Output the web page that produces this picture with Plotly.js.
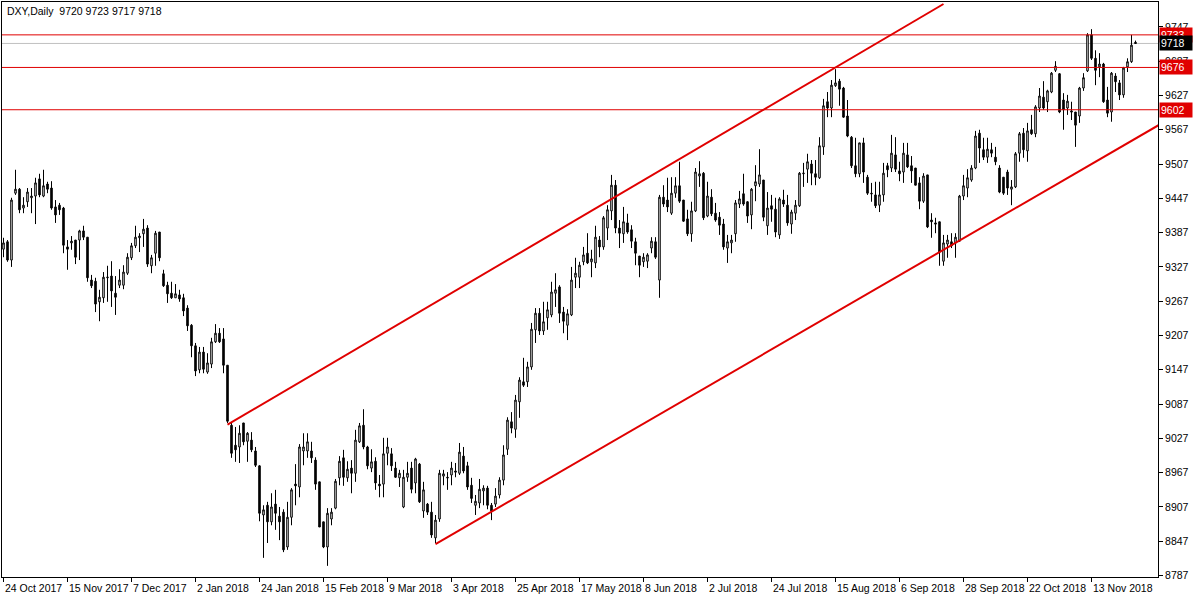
<!DOCTYPE html>
<html><head><meta charset="utf-8">
<script src="https://cdn.plot.ly/plotly-3.0.1.min.js"></script>
<style>html,body{margin:0;padding:0;background:#fff}#chart{width:1200px;height:600px}</style>
</head><body><div id="chart"></div>
<script>
const symbolTitle = "DXY,Daily\u00A0\u00A09720 9723 9717 9718";

const openVals = [9358,9371,9339,9456,9463,9430,9441,9448,9451,9481,
9451,9472,9465,9432,9435,9430,9362,9369,9374,9374,
9390,9379,9304,9302,9266,9273,9308,9311,9281,9295,
9295,9316,9343,9364,9378,9385,9395,9329,9351,9388,
9315,9295,9281,9273,9278,9273,9255,9225,9189,9147,
9178,9143,9157,9196,9211,9201,9155,9050,9015,9012,
9054,9022,9024,9005,8979,8893,8910,8881,8912,8891,
8898,8837,8889,8947,8942,9005,9005,9005,8989,8951,
8881,8837,8886,8905,8958,8993,8958,8975,8966,9021,
9050,9012,8975,8987,8947,8947,9001,9000,8975,8958,
8907,8959,8975,8949,8982,8900,8912,8898,8853,8886,
8961,8959,8963,8970,8966,8996,8979,8945,8910,8914,
8935,8940,8910,8912,8928,8954,9008,9056,9043,9091,
9126,9126,9152,9217,9246,9215,9238,9243,9281,9292,
9248,9225,9243,9309,9309,9336,9351,9336,9334,9374,
9362,9395,9425,9470,9395,9385,9404,9392,9371,9346,
9336,9337,9360,9371,9304,9449,9444,9421,9456,9469,
9444,9411,9385,9425,9486,9491,9416,9449,9421,9414,
9402,9360,9369,9385,9437,9455,9441,9418,9469,9472,
9479,9399,9434,9428,9383,9444,9435,9402,9421,9434,
9490,9498,9507,9490,9483,9537,9616,9605,9644,9652,
9640,9591,9554,9504,9490,9544,9484,9456,9453,9435,
9453,9504,9500,9523,9495,9493,9523,9504,9500,9474,
9442,9488,9409,9404,9406,9337,9367,9371,9369,9372,
9451,9465,9479,9500,9561,9532,9519,9532,9519,9500,
9484,9493,9463,9467,9526,9561,9530,9567,9560,9605,
9624,9616,9633,9671,9665,9619,9605,9600,9598,9591,
9640,9670,9733,9692,9677,9682,9619,9598,9661,9649,
9628,9677,9686,9720];

const highVals = [9378,9374,9448,9497,9465,9449,9465,9465,9483,9490,
9497,9476,9477,9444,9439,9432,9374,9381,9374,9392,
9399,9379,9313,9308,9287,9318,9329,9337,9311,9323,
9330,9351,9369,9399,9386,9411,9400,9348,9390,9388,
9322,9301,9301,9297,9287,9280,9260,9227,9194,9187,
9187,9176,9203,9227,9220,9220,9155,9054,9047,9050,
9054,9038,9038,9012,8980,8910,8916,8931,8937,8907,
8903,8916,8940,8982,9017,9036,9036,9021,8994,8951,
8881,8905,8905,8956,8996,9007,8987,8989,9042,9054,
9078,9014,9008,8994,8963,9028,9028,9010,8986,8972,
8972,8986,8986,8993,8984,8951,8914,8916,8893,8972,
8972,8968,8986,8984,9019,9012,8986,8958,8928,8956,
8945,8944,8914,8940,8959,9015,9064,9073,9103,9134,
9168,9161,9229,9255,9255,9266,9266,9301,9316,9295,
9257,9253,9327,9343,9336,9362,9386,9357,9399,9381,
9416,9435,9488,9479,9409,9432,9420,9400,9378,9346,
9351,9351,9379,9379,9453,9470,9483,9484,9484,9511,
9444,9427,9441,9500,9512,9493,9476,9463,9439,9423,
9411,9383,9383,9444,9460,9490,9442,9465,9505,9533,
9479,9458,9453,9448,9449,9462,9453,9427,9444,9493,
9509,9525,9514,9514,9554,9621,9633,9654,9673,9656,
9642,9619,9556,9553,9544,9553,9488,9474,9476,9476,
9509,9509,9558,9554,9511,9544,9544,9521,9500,9484,
9491,9488,9421,9413,9406,9383,9383,9386,9386,9453,
9488,9498,9505,9565,9567,9553,9553,9544,9537,9505,
9484,9497,9479,9528,9563,9570,9579,9593,9610,9640,
9652,9637,9668,9687,9666,9631,9628,9616,9598,9642,
9666,9736,9743,9706,9701,9684,9642,9668,9666,9654,
9677,9692,9733,9723];

const lowVals = [9344,9336,9327,9453,9421,9421,9432,9421,9402,9449,
9449,9456,9427,9404,9418,9351,9322,9357,9332,9339,
9374,9301,9290,9248,9232,9264,9266,9257,9243,9290,
9288,9313,9339,9360,9353,9362,9327,9316,9329,9337,
9292,9264,9271,9273,9266,9241,9215,9169,9136,9141,
9141,9140,9150,9194,9194,9141,9054,8993,8986,8984,
9015,8986,9003,8977,8882,8818,8844,8875,8867,8849,
8828,8832,8875,8910,8924,8980,8993,8984,8937,8872,
8835,8804,8875,8903,8945,8944,8951,8931,8951,9019,
9008,8973,8968,8937,8924,8924,8980,8970,8958,8942,
8905,8951,8931,8931,8914,8888,8893,8853,8844,8881,
8945,8937,8945,8959,8963,8966,8937,8914,8893,8905,
8910,8903,8884,8907,8922,8945,8998,9036,9028,9063,
9117,9117,9147,9194,9208,9208,9217,9239,9257,9229,
9211,9199,9241,9290,9290,9330,9332,9309,9325,9344,
9357,9374,9409,9386,9360,9369,9385,9360,9330,9309,
9327,9325,9351,9341,9273,9432,9423,9418,9448,9439,
9406,9381,9371,9423,9467,9409,9414,9416,9406,9383,
9357,9334,9351,9371,9430,9434,9404,9393,9442,9467,
9407,9383,9406,9379,9376,9432,9399,9385,9409,9432,
9467,9474,9470,9470,9481,9523,9589,9589,9642,9609,
9588,9554,9500,9484,9484,9474,9453,9441,9430,9423,
9441,9484,9493,9493,9477,9474,9500,9474,9470,9428,
9439,9395,9378,9386,9329,9329,9343,9360,9343,9371,
9444,9449,9476,9498,9509,9514,9509,9519,9505,9456,
9453,9453,9435,9465,9511,9518,9511,9558,9554,9598,
9602,9598,9631,9668,9596,9567,9593,9584,9537,9579,
9635,9668,9689,9645,9659,9614,9589,9581,9633,9619,
9623,9668,9684,9717];

const closeVals = [9369,9339,9444,9463,9427,9435,9458,9451,9474,9453,
9469,9463,9430,9418,9427,9365,9358,9372,9344,9390,
9379,9308,9294,9262,9274,9309,9309,9285,9274,9304,
9318,9344,9364,9379,9381,9393,9332,9343,9386,9343,
9294,9280,9273,9280,9271,9250,9224,9189,9145,9178,
9148,9159,9196,9211,9196,9155,9057,9001,9007,9036,
9021,9036,9007,8980,8896,8902,8881,8907,8896,8881,
8832,8889,8937,8944,9012,9012,9021,8993,8947,8872,
8837,8896,8898,8952,8987,8959,8973,8966,9024,9049,
9012,8979,8986,8949,8944,9000,9012,8979,8959,8966,
8959,8966,8938,8991,8916,8937,8898,8858,8884,8966,
8965,8958,8975,8968,9003,8970,8942,8922,8917,8938,
8940,8910,8900,8926,8954,8998,9059,9045,9094,9129,
9120,9152,9218,9246,9215,9231,9252,9283,9287,9246,
9232,9245,9304,9316,9330,9348,9334,9341,9379,9362,
9413,9427,9470,9395,9386,9406,9388,9372,9351,9330,
9344,9348,9372,9344,9449,9437,9432,9456,9469,9442,
9407,9385,9425,9493,9490,9413,9451,9420,9409,9400,
9362,9371,9374,9439,9446,9437,9416,9463,9476,9488,
9414,9430,9428,9388,9446,9437,9404,9423,9435,9491,
9491,9511,9491,9484,9539,9609,9605,9645,9649,9638,
9589,9556,9504,9490,9544,9493,9456,9455,9434,9453,
9491,9497,9526,9498,9490,9526,9502,9495,9470,9442,
9486,9397,9406,9402,9353,9369,9374,9364,9379,9451,
9469,9483,9500,9556,9535,9519,9533,9526,9511,9458,
9456,9465,9467,9525,9560,9532,9565,9560,9607,9626,
9605,9635,9666,9678,9598,9602,9617,9598,9575,9640,
9658,9733,9692,9671,9682,9616,9596,9666,9651,9628,
9675,9686,9715,9718];

const dateTickIndex = [0,16,32,48,64,80,96,112,128,144,160,176,192,208,224,240,256,272];
const dateTickLabels = ["24 Oct 2017","15 Nov 2017","7 Dec 2017","2 Jan 2018","24 Jan 2018","15 Feb 2018",
  "9 Mar 2018","3 Apr 2018","25 Apr 2018","17 May 2018","8 Jun 2018","2 Jul 2018","24 Jul 2018",
  "15 Aug 2018","6 Sep 2018","28 Sep 2018","22 Oct 2018","13 Nov 2018"];

const priceTicks = [8787,8847,8907,8967,9027,9087,9147,9207,9267,9327,9387,9447,9507,9567,9627,9687,9747];

const levelLines = [9733, 9676, 9602];
const bidPrice = 9718;

const upperChannelX = [56, 235];
const upperChannelY = [9051, 9787];
const lowerChannelX = [108, 290];
const lowerChannelY = [8842, 9580];

const barIndex = closeVals.map((_, i) => i);
const FONT = "Liberation Sans, Arial, sans-serif";
const RED = "#e00000";

const traces = [
  {
    type: "candlestick",
    x: barIndex, open: openVals, high: highVals, low: lowVals, close: closeVals,
    increasing: {line: {color: "#000", width: 1}, fillcolor: "#ffffff"},
    decreasing: {line: {color: "#000", width: 1}, fillcolor: "#000000"},
    whiskerwidth: 0, hoverinfo: "skip", showlegend: false
  },
  {type: "scatter", mode: "lines", x: upperChannelX, y: upperChannelY,
   line: {color: RED, width: 2}, hoverinfo: "skip", showlegend: false},
  {type: "scatter", mode: "lines", x: lowerChannelX, y: lowerChannelY,
   line: {color: RED, width: 2}, hoverinfo: "skip", showlegend: false}
];

const shapes = levelLines.map(v => ({
  type: "line", xref: "paper", x0: 0, x1: 1, yref: "y", y0: v, y1: v,
  line: {color: RED, width: 1}, layer: "above"
}));
shapes.unshift({type: "line", xref: "paper", x0: 0, x1: 1, yref: "y", y0: bidPrice, y1: bidPrice,
  line: {color: "#c0c0c0", width: 1}, layer: "below"});

const annotations = [];
annotations.push({xref: "paper", yref: "paper", x: 0, y: 1, xanchor: "left", yanchor: "top",
  xshift: 3, yshift: -1, showarrow: false, text: symbolTitle, font: {family: FONT, size: 10.5, color: "#000"}});
dateTickIndex.forEach((idx, k) => {
  annotations.push({xref: "x", yref: "paper", x: idx, y: 0, xanchor: "left", yanchor: "top",
    xshift: -1, yshift: -3, showarrow: false, text: dateTickLabels[k],
    font: {family: FONT, size: 10.5, color: "#000"}});
});
levelLines.forEach(v => {
  annotations.push({xref: "paper", yref: "y", x: 1, y: v, xanchor: "left", yanchor: "middle",
    xshift: 1, showarrow: false, text: String(v), bgcolor: RED, borderpad: 1, width: 30, align: "left",
    font: {family: FONT, size: 10.5, color: "#fff"}});
});
annotations.push({xref: "paper", yref: "y", x: 1, y: bidPrice, xanchor: "left", yanchor: "middle",
  xshift: 1, showarrow: false, text: String(bidPrice), bgcolor: "#000", borderpad: 1, width: 30, align: "left",
  font: {family: FONT, size: 10.5, color: "#fff"}});

const layout = {
  width: 1200, height: 600,
  margin: {l: 2, r: 42, t: 2, b: 23},
  paper_bgcolor: "#fff", plot_bgcolor: "#fff",
  boxgap: 0.45,
  xaxis: {type: "linear", range: [-0.375, 288.625], showgrid: false, zeroline: false,
    showline: true, mirror: true, linecolor: "#000", linewidth: 1,
    tickvals: dateTickIndex, ticktext: dateTickIndex.map(() => ""), ticks: "outside", ticklen: 4,
    tickcolor: "#000", showticklabels: false, rangeslider: {visible: false}, fixedrange: true},
  yaxis: {side: "right", range: [8784.5, 9790.5], showgrid: false, zeroline: false,
    showline: true, mirror: true, linecolor: "#000", linewidth: 1,
    tickvals: priceTicks, ticktext: priceTicks.map(String), ticks: "outside", ticklen: 4,
    tickcolor: "#000", tickfont: {family: FONT, size: 10.5, color: "#000"}, fixedrange: true},
  shapes: shapes,
  annotations: annotations,
  showlegend: false
};

Plotly.newPlot("chart", traces, layout, {displayModeBar: false, staticPlot: true});
</script>
</body></html>
